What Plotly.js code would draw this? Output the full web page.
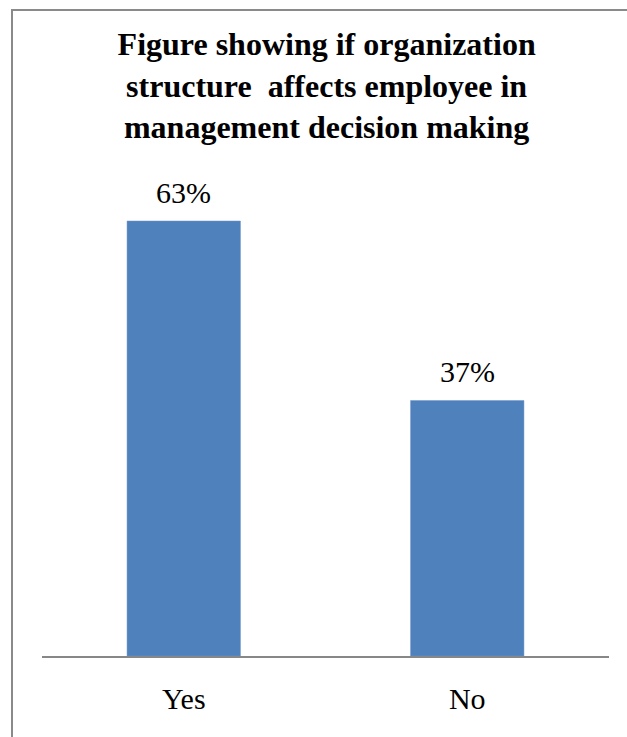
<!DOCTYPE html>
<html>
<head>
<meta charset="utf-8">
<script src="https://cdn.plot.ly/plotly-3.0.1.min.js"></script>
<style>
  html, body { margin: 0; padding: 0; background: #fff; }
  #wrap { position: relative; width: 627px; height: 737px; }
  #chart { position: absolute; left: 0; top: 0; width: 627px; height: 737px; }
  #frame { position: absolute; left: 11px; top: 9px; width: 640px; height: 760px;
           border-left: 2px solid #8a8a8a; border-top: 2px solid #8a8a8a; pointer-events: none; }
</style>
</head>
<body>
<div id="wrap">
  <div id="chart"></div>
  <div id="frame"></div>
</div>
<script>
var categories = ["Yes", "No"];
var values = [63, 37];
var labels = ["63%", "37%"];
var titleText = "Figure showing if organization<br>structure  affects employee in<br>management decision making";

var serif = "Liberation Serif";

var trace = {
  type: "bar",
  x: categories,
  y: values,
  marker: { color: "#4F81BD", line: { color: "#6f97c8", width: 0.5 } },
  hoverinfo: "none"
};

var annotations = categories.map(function (c, i) {
  return {
    x: c, y: values[i], xref: "x", yref: "y",
    text: labels[i], showarrow: false,
    yanchor: "middle", yshift: 29,
    font: { family: serif, size: 30, color: "#000" }
  };
});

var layout = {
  width: 627, height: 737,
  margin: { l: 42, r: 18, t: 180, b: 81 },
  paper_bgcolor: "#fff", plot_bgcolor: "#fff",
  showlegend: false,
  bargap: 0.6,
  title: {
    text: titleText,
    font: { family: serif, size: 32, color: "#000", weight: "bold" },
    x: 0.502, xanchor: "center", xref: "paper",
    y: 1 - 55 / 737, yanchor: "top"
  },
  xaxis: {
    showline: true, linecolor: "#878787", linewidth: 2,
    ticks: "", showgrid: false, zeroline: false,
    ticklabelstandoff: 15,
    tickfont: { family: serif, size: 30, color: "#000" }
  },
  yaxis: {
    range: [0, 68.94], visible: false, showgrid: false, zeroline: false
  },
  annotations: annotations
};

Plotly.newPlot("chart", [trace], layout, { displayModeBar: false, staticPlot: true });
</script>
</body>
</html>
